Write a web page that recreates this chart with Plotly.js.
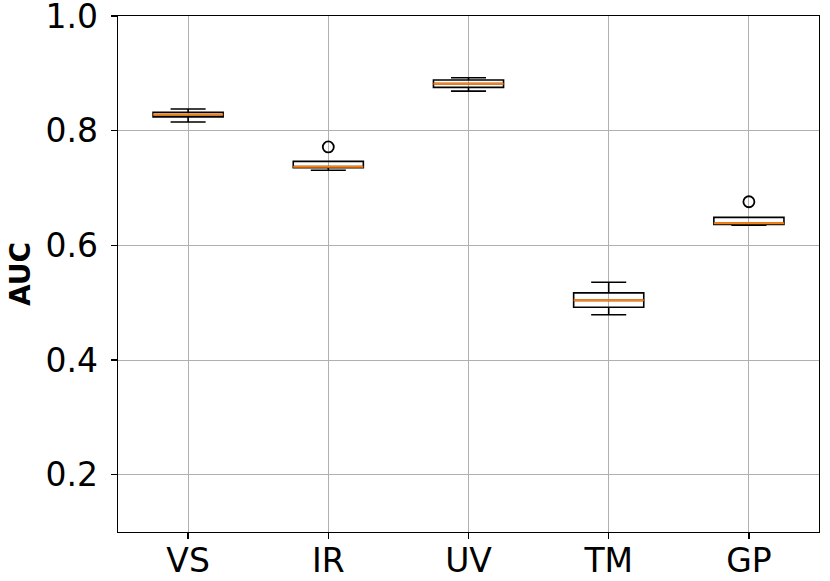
<!DOCTYPE html>
<html>
<head>
<meta charset="utf-8">
<script src="https://cdn.plot.ly/plotly-3.0.1.min.js"></script>
<style>
  html, body { margin: 0; padding: 0; background: #fff; }
  #chart { width: 830px; height: 581px; }
</style>
</head>
<body>
<div id="chart"></div>
<script>
// box statistics
const methods = ['VS', 'IR', 'UV', 'TM', 'GP'];
const lowerWhisker = [0.815, 0.731, 0.869, 0.479, 0.635];
const q1 = [0.824, 0.7355, 0.8755, 0.492, 0.6366];
const median = [0.828, 0.7372, 0.882, 0.504, 0.6384];
const q3 = [0.832, 0.7465, 0.8884, 0.517, 0.6488];
const upperWhisker = [0.8378, 0.7465, 0.8924, 0.5355, 0.6488];

const outlierMethods = ['IR', 'GP'];
const outlierValues = [0.7716, 0.676];

const boxes = {
  type: 'box',
  x: methods,
  q1: q1,
  median: median,
  q3: q3,
  lowerfence: lowerWhisker,
  upperfence: upperWhisker,
  width: 0.5,
  whiskerwidth: 0.5,
  line: { color: '#000', width: 1.6 },
  fillcolor: 'rgba(0,0,0,0)',
  boxpoints: false,
  hoverinfo: 'skip',
  showlegend: false
};

// orange median lines drawn as flat boxes over the black ones
const medians = {
  type: 'box',
  x: methods,
  q1: median,
  median: median,
  q3: median,
  lowerfence: median,
  upperfence: median,
  width: 0.5,
  whiskerwidth: 0,
  line: { color: '#ff7f0e', width: 2 },
  fillcolor: 'rgba(0,0,0,0)',
  boxpoints: false,
  hoverinfo: 'skip',
  showlegend: false
};

const outliers = {
  type: 'scatter',
  mode: 'markers',
  x: outlierMethods,
  y: outlierValues,
  marker: { symbol: 'circle-open', size: 11, color: '#000', line: { width: 1.8, color: '#000' } },
  hoverinfo: 'skip',
  showlegend: false
};

const layout = {
  width: 830,
  height: 581,
  margin: { t: 16, l: 118, r: 11, b: 49 },
  paper_bgcolor: '#fff',
  plot_bgcolor: '#fff',
  font: { family: 'DejaVu Sans, sans-serif', size: 33, color: '#000' },
  boxmode: 'overlay',
  showlegend: false,
  xaxis: {
    type: 'category',
    categoryorder: 'array',
    categoryarray: methods,
    range: [-0.5, 4.5],
    showgrid: true,
    gridcolor: '#b0b0b0',
    gridwidth: 1,
    showline: true,
    linecolor: '#000',
    linewidth: 1.3,
    mirror: true,
    ticks: 'outside',
    ticklen: 6,
    tickwidth: 1.3,
    tickcolor: '#000',
    tickfont: { size: 33 },
    ticklabelstandoff: -7,
    zeroline: false
  },
  yaxis: {
    range: [0.1, 1.0],
    tickmode: 'linear',
    tick0: 0,
    dtick: 0.2,
    tickformat: '.1f',
    ticklabeloverflow: 'allow',
    showgrid: true,
    gridcolor: '#b0b0b0',
    gridwidth: 1,
    showline: true,
    linecolor: '#000',
    linewidth: 1.3,
    mirror: true,
    ticks: 'outside',
    ticklen: 6,
    tickwidth: 1.3,
    tickcolor: '#000',
    tickfont: { size: 33 },
    ticklabelstandoff: 6,
    zeroline: false,
    title: {
      text: '<b>AUC</b>',
      font: { size: 28 },
      standoff: 6
    }
  }
};

Plotly.newPlot('chart', [boxes, medians, outliers], layout, { displayModeBar: false, staticPlot: true });
</script>
</body>
</html>
